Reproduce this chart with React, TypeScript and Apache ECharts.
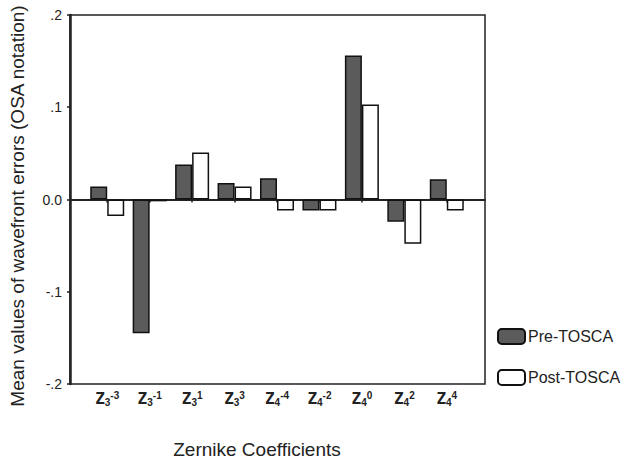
import React, { useEffect, useRef } from "react";
import * as echarts from "echarts";

const categories = ["Z3-3", "Z3-1", "Z31", "Z33", "Z4-4", "Z4-2", "Z40", "Z42", "Z44"];
const catSub = ["3", "3", "3", "3", "4", "4", "4", "4", "4"];
const catSup = ["-3", "-1", "1", "3", "-4", "-2", "0", "2", "4"];
const preTosca = [0.014, -0.145, 0.038, 0.018, 0.023, -0.012, 0.156, -0.024, 0.022];
const postTosca = [-0.018, -0.002, 0.051, 0.014, -0.012, -0.012, 0.103, -0.048, -0.012];

const FONT = "'Liberation Sans', Arial, sans-serif";

export default function App() {
  const ref = useRef<HTMLDivElement>(null);
  useEffect(() => {
    if (!ref.current) return;
    const chart = echarts.init(ref.current, null, { renderer: "svg" });
    const fmtY = (v: number) => {
      if (Math.abs(v) < 1e-9) return "0.0";
      return (v < 0 ? "-" : "") + "." + Math.round(Math.abs(v) * 10);
    };
    chart.setOption({
      animation: false,
      backgroundColor: "#fff",
      grid: [
        { left: 70, top: 15, width: 415, height: 369, show: true, borderColor: "#222", borderWidth: 1.5, backgroundColor: "transparent" },
        { left: 86, top: 15, width: 382, height: 369 },
      ],
      legend: {
        data: ["Pre-TOSCA", "Post-TOSCA"],
        orient: "vertical",
        left: 497,
        top: 328,
        padding: 0,
        itemWidth: 27,
        itemHeight: 15,
        itemGap: 24,
        textStyle: { fontSize: 16, color: "#222", fontFamily: FONT, padding: [0, 0, 0, -2] },
      },
      xAxis: [
        {
          gridIndex: 0, type: "value", min: 0, max: 1,
          axisLine: { show: true, lineStyle: { color: "#222", width: 2 } },
          axisTick: { show: false }, axisLabel: { show: false }, splitLine: { show: false },
        },
        {
          gridIndex: 1, type: "category", data: categories,
          axisLine: { show: false },
          axisTick: { show: true, alignWithLabel: true, length: 3, interval: 0, lineStyle: { color: "#222", width: 1.5 } },
          axisLabel: {
            margin: 5,
            interval: 0,
            hideOverlap: false,
            formatter: (_v: string, i: number) => `{z|Z}{sub|${catSub[i]}}{sup|${catSup[i]}}`,
            rich: {
              z: { fontSize: 16, fontWeight: "bold", color: "#222", fontFamily: "'DejaVu Sans Mono', monospace", lineHeight: 18 },
              sub: { fontSize: 10, fontWeight: "bold", color: "#222", fontFamily: FONT, padding: [8, 0, 0, 0], lineHeight: 18 },
              sup: { fontSize: 10, fontWeight: "bold", color: "#222", fontFamily: FONT, padding: [0, 0, 6, 0], lineHeight: 18 },
            },
          },
        },
      ],
      yAxis: [
        {
          gridIndex: 0, type: "value", min: -0.2, max: 0.2, interval: 0.1,
          axisLine: { show: true, lineStyle: { color: "#222", width: 2.5 } },
          axisTick: { show: true, length: 3, lineStyle: { color: "#222", width: 1.5 } },
          axisLabel: { formatter: fmtY, fontSize: 14, color: "#222", fontFamily: FONT, margin: 8 },
          splitLine: { show: false },
        },
        { gridIndex: 1, type: "value", min: -0.2, max: 0.2, interval: 0.1, show: false },
      ],
      series: [
        {
          name: "Pre-TOSCA", type: "bar", xAxisIndex: 1, yAxisIndex: 1, data: preTosca,
          barWidth: 17, barGap: "0%",
          itemStyle: { color: "#5b5b5b", borderColor: "#111", borderWidth: 1.5 },
        },
        {
          name: "Post-TOSCA", type: "bar", xAxisIndex: 1, yAxisIndex: 1, data: postTosca,
          barWidth: 17, barGap: "0%",
          itemStyle: { color: "#fff", borderColor: "#111", borderWidth: 1.5 },
        },
      ],
      graphic: [
        {
          type: "text", x: 17, y: 206, rotation: Math.PI / 2,
          style: { text: "Mean values of wavefront errors (OSA notation)", fontSize: 19, fontFamily: FONT, fill: "#222", align: "center", verticalAlign: "middle" },
        },
        {
          type: "text", x: 257, y: 449,
          style: { text: "Zernike Coefficients", fontSize: 19, fontFamily: FONT, fill: "#222", align: "center", verticalAlign: "middle" },
        },
      ],
    });
    return () => chart.dispose();
  }, []);
  return <div ref={ref} style={{ position: "absolute", left: 0, top: 0, width: 626, height: 458 }} />;
}
